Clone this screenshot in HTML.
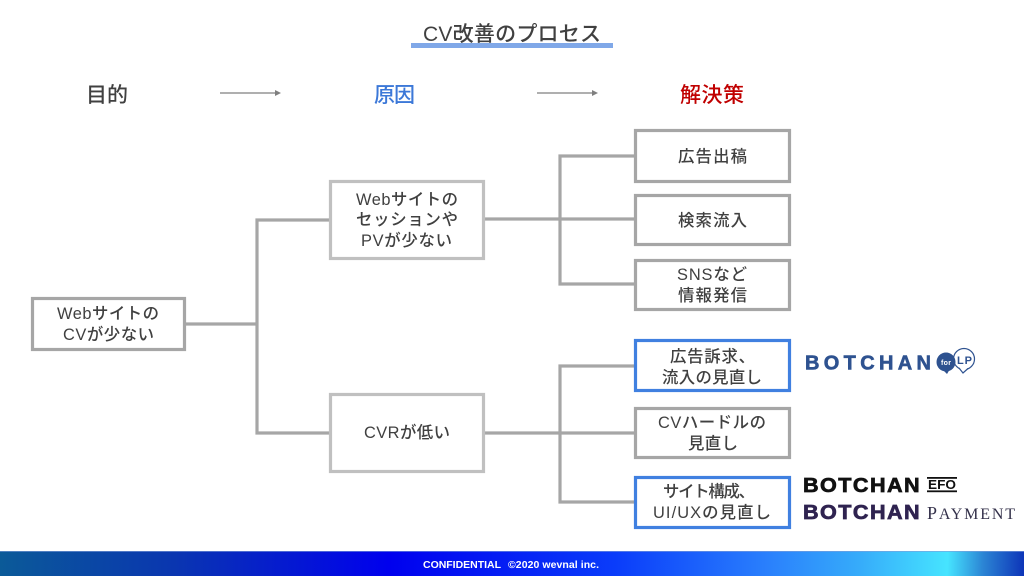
<!DOCTYPE html>
<html lang="ja">
<head>
<meta charset="utf-8">
<title>CV改善のプロセス</title>
<style>
html,body{margin:0;padding:0;background:#fff;width:1024px;height:576px;overflow:hidden}
svg{display:block}
text{font-family:"Liberation Sans","Noto Sans CJK JP",sans-serif;font-weight:500;fill:#404040}
.b{font-size:16.4px}
.box{fill:#fff;stroke:#a6a6a6;stroke-width:3.2}
.lbox{fill:#fff;stroke:#c0c0c0;stroke-width:3.2}
.bbox{fill:#fff;stroke:#4080e0;stroke-width:3.2}
.c{fill:none;stroke:#a6a6a6;stroke-width:3.2}
.logo{font-family:"Liberation Sans",sans-serif;font-weight:700;font-size:20px}
</style>
</head>
<body>
<svg width="1024" height="576" viewBox="0 0 1024 576" xmlns="http://www.w3.org/2000/svg">
<defs>
<linearGradient id="f" gradientUnits="userSpaceOnUse" x1="0" y1="551" x2="1024" y2="576">
<stop offset="0" stop-color="#0b5a98"/>
<stop offset="0.17" stop-color="#0a36b0"/>
<stop offset="0.38" stop-color="#0000ee"/>
<stop offset="0.6" stop-color="#0a3cfa"/>
<stop offset="0.75" stop-color="#2a80fc"/>
<stop offset="0.84" stop-color="#36acfa"/>
<stop offset="0.925" stop-color="#46e4ff"/>
<stop offset="0.96" stop-color="#2b84d4"/>
<stop offset="1" stop-color="#0d34b8"/>
</linearGradient>
</defs>

<!-- title -->
<text x="423" y="41" font-size="21" textLength="178">CV改善のプロセス</text>
<rect x="411" y="43" width="202" height="5" fill="#80a8e8"/>

<!-- headers -->
<text x="86" y="102" font-size="21" textLength="42">目的</text>
<text x="374" y="102" font-size="21" style="fill:#3c78d8" textLength="41">原因</text>
<text x="680" y="102" font-size="21" style="fill:#c00000" textLength="64">解決策</text>

<!-- arrows -->
<path d="M220 93H276" stroke="#7f7f7f" stroke-width="1.2" fill="none"/>
<path d="M275 90L281 93L275 96Z" fill="#7f7f7f"/>
<path d="M537 93H593" stroke="#7f7f7f" stroke-width="1.2" fill="none"/>
<path d="M592 90L598 93L592 96Z" fill="#7f7f7f"/>

<!-- connectors -->
<path class="c" d="M186 324H257"/>
<path class="c" d="M329 220H257V433H329"/>
<path class="c" d="M485 219H634M634 156H560V284H634"/>
<path class="c" d="M485 433H634M634 366H560V502H634"/>

<!-- boxes -->
<rect class="box" x="32.5" y="298.5" width="152" height="51"/>
<rect class="lbox" x="330.5" y="181.5" width="153" height="77"/>
<rect class="lbox" x="330.5" y="394.5" width="153" height="77"/>
<rect class="box" x="635.5" y="130.5" width="154" height="51"/>
<rect class="box" x="635.5" y="195.5" width="154" height="49"/>
<rect class="box" x="635.5" y="260.5" width="154" height="49"/>
<rect class="bbox" x="635.5" y="340.5" width="154" height="50"/>
<rect class="box" x="635.5" y="408.5" width="154" height="49"/>
<rect class="bbox" x="635.5" y="477.5" width="154" height="50"/>

<!-- box labels -->
<text class="b" x="57" y="319" textLength="102">Webサイトの</text>
<text class="b" x="63" y="340" textLength="91">CVが少ない</text>

<text class="b" x="356" y="205" textLength="102">Webサイトの</text>
<text class="b" x="356" y="225" textLength="102">セッションや</text>
<text class="b" x="361" y="246" textLength="91">PVが少ない</text>
<text class="b" x="364" y="438" textLength="86">CVRが低い</text>

<text class="b" x="678" y="162" textLength="69">広告出稿</text>
<text class="b" x="678" y="226" textLength="69">検索流入</text>
<text class="b" x="677" y="280" textLength="70">SNSなど</text>
<text class="b" x="678" y="301" textLength="69">情報発信</text>
<text class="b" x="670" y="362" textLength="85">広告訴求、</text>
<text class="b" x="662" y="383" textLength="100">流入の見直し</text>
<text class="b" x="658" y="428" textLength="108">CVハードルの</text>
<text class="b" x="688" y="449" textLength="50">見直し</text>
<text class="b" x="663" y="497" textLength="92">サイト構成、</text>
<text class="b" x="653" y="518" textLength="118">UI/UXの見直し</text>

<!-- logos -->
<text class="logo" x="805" y="369.5" textLength="126" style="fill:#2e5290;stroke:#2e5290;stroke-width:.6">BOTCHAN</text>
<circle cx="964" cy="359" r="10.5" fill="#fff" stroke="#2e5290" stroke-width="1.2"/>
<path d="M959 368L963 373L968 368.5" fill="#fff" stroke="#2e5290" stroke-width="1.2"/>
<circle cx="946" cy="362" r="9.5" fill="#2e5290"/>
<path d="M943 370L947 374L950 369Z" fill="#2e5290"/>
<text x="941" y="365" font-size="7" textLength="10" style="fill:#fff;font-weight:700">for</text>
<text x="957" y="364" font-size="11" textLength="15" style="fill:#2e5290;font-weight:700">LP</text>

<text class="logo" transform="translate(803,492) scale(1.08,1)" x="0" y="0" textLength="108" style="fill:#111;stroke:#111;stroke-width:.7">BOTCHAN</text>
<rect x="927" y="477" width="30" height="1.8" fill="#111"/>
<rect x="927" y="490.4" width="30" height="1.8" fill="#111"/>
<text x="928" y="489" font-size="13" textLength="28" lengthAdjust="spacingAndGlyphs" style="fill:#111;font-weight:700">EFO</text>

<text class="logo" transform="translate(803,519) scale(1.08,1)" x="0" y="0" textLength="108" style="fill:#2f2350;stroke:#2f2350;stroke-width:.7">BOTCHAN</text>
<text x="927" y="519" textLength="88" style="font-family:'Liberation Serif',serif;font-size:18px;font-weight:400;fill:#33304a">P<tspan font-size="16">AYMENT</tspan></text>

<!-- footer -->
<rect x="0" y="551" width="1024" height="25" fill="url(#f)"/>
<rect x="0" y="551" width="1024" height="1" fill="#7f9fd8" opacity="0.6"/>
<text x="423" y="568" font-size="10.5" textLength="78" style="fill:#fff;font-weight:700;font-family:'Liberation Sans',sans-serif">CONFIDENTIAL</text>
<text x="508" y="568" font-size="10.5" textLength="91" style="fill:#fff;font-weight:700;font-family:'Liberation Sans',sans-serif">©2020 wevnal inc.</text>
</svg>
</body>
</html>
